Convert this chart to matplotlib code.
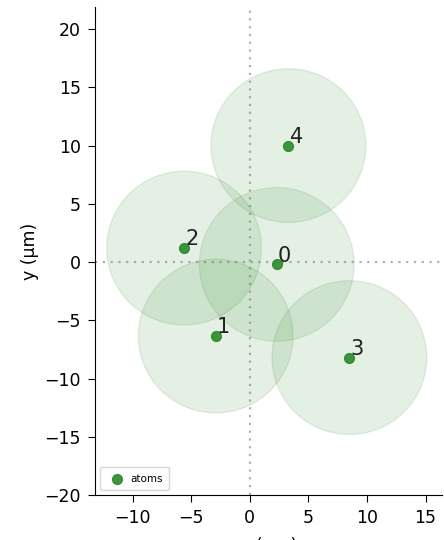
import matplotlib.pyplot as plt
from matplotlib.patches import Circle
import numpy as np

# atom coordinates in micrometres
atom_ids = ["0", "1", "2", "3", "4"]
atom_x = [2.3, -2.9, -5.6, 8.5, 3.3]
atom_y = [-0.2, -6.35, 1.2, -8.2, 10.0]
blockade_radius = 6.6

x_ticks = [-10, -5, 0, 5, 10, 15]
y_ticks = [-20, -15, -10, -5, 0, 5, 10, 15, 20]

fig = plt.figure(figsize=(4.44, 5.40), dpi=100)
ax = fig.add_axes([95 / 444, 45 / 540, 347 / 444, 488 / 540])

# blockade disks around each atom
for x, y in zip(atom_x, atom_y):
    ax.add_patch(Circle((x, y), blockade_radius, facecolor="#2e8b2e", alpha=0.12,
                        edgecolor="#2e7d2e", linewidth=1.0, zorder=1))

ax.axhline(0, color="gray", linestyle=(0, (1, 2.5)), linewidth=1.6, alpha=0.6, zorder=0)
ax.axvline(0, color="gray", linestyle=(0, (1, 2.5)), linewidth=1.6, alpha=0.6, zorder=0)

ax.scatter(atom_x, atom_y, s=50, color="#2a8a2a", alpha=0.9, label="atoms", zorder=3)
for name, x, y in zip(atom_ids, atom_x, atom_y):
    ax.annotate(name, (x, y), xytext=(1, 2), textcoords="offset points",
                fontsize=15, color="#222222", zorder=4)

ax.set_xlim(-13.2, 16.4)
ax.set_ylim(-20, 21.9)
ax.set_xticks(x_ticks)
ax.set_yticks(y_ticks)
ax.tick_params(labelsize=12.5, length=5, pad=5)
ax.set_xlabel("x (µm)", fontsize=12.5, labelpad=7)
ax.set_ylabel("y (µm)", fontsize=12.5, labelpad=4)
ax.spines["top"].set_visible(False)
ax.spines["right"].set_visible(False)
ax.legend(loc="lower left", fontsize=7.5, handletextpad=0.3, borderpad=0.6)

fig.savefig("out.png", dpi=100)
